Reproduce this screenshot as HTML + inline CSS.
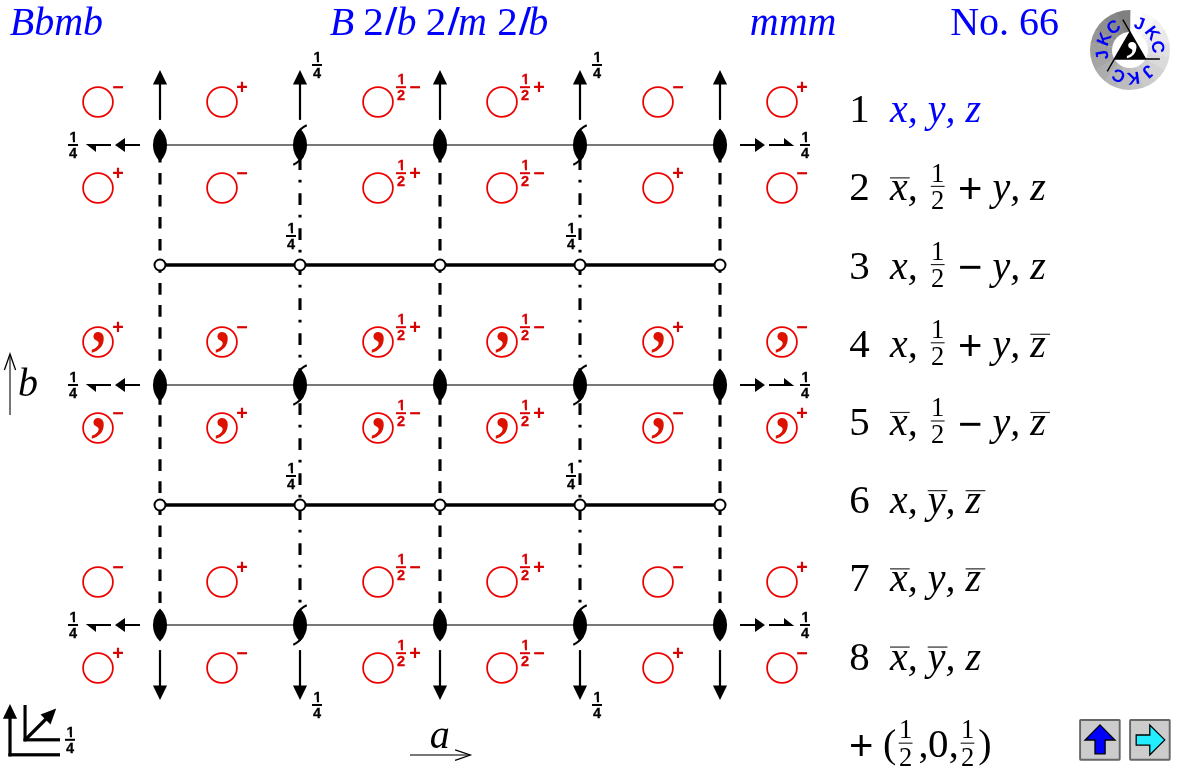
<!DOCTYPE html>
<html lang="en"><head><meta charset="utf-8"><title>Space group No. 66 - Bbmb</title>
<style>html,body{margin:0;padding:0;background:#fff;overflow:hidden}svg{display:block;will-change:transform;transform:translateZ(0)}text{white-space:pre;font-kerning:none}</style></head>
<body><svg width="1180" height="770" viewBox="0 0 1180 770">
<defs><clipPath id="nobase" clipPathUnits="objectBoundingBox"><polygon points="0,0 1,0 1,0.685 0.672,0.685 0.672,1 0.414,1 0.414,0.685 0,0.685"/></clipPath></defs>
<g id="grid">
<line x1="160" y1="145" x2="720" y2="145" stroke="#777777" stroke-width="2"/>
<line x1="160" y1="385" x2="720" y2="385" stroke="#777777" stroke-width="2"/>
<line x1="160" y1="625" x2="720" y2="625" stroke="#777777" stroke-width="2"/>
<line x1="160" y1="265" x2="720" y2="265" stroke="#000" stroke-width="3.4"/>
<line x1="160" y1="505" x2="720" y2="505" stroke="#000" stroke-width="3.4"/>
<line x1="160" y1="150.9" x2="160" y2="626" stroke="#000" stroke-width="3.1" stroke-dasharray="11.6 10.43"/>
<line x1="440" y1="150.9" x2="440" y2="626" stroke="#000" stroke-width="3.1" stroke-dasharray="11.6 10.43"/>
<line x1="720" y1="150.9" x2="720" y2="626" stroke="#000" stroke-width="3.1" stroke-dasharray="11.6 10.43"/>
<line x1="300" y1="158.2" x2="300" y2="626" stroke="#000" stroke-width="3.1" stroke-dasharray="11.8 9.8 2.8 10.6"/>
<line x1="580" y1="158.2" x2="580" y2="626" stroke="#000" stroke-width="3.1" stroke-dasharray="11.8 9.8 2.8 10.6"/>
</g>
<g id="axes2">
<path d="M160,128.6 A22.60,22.60 0 0 1 160,161.4 A22.60,22.60 0 0 1 160,128.6 Z" fill="#000"/>
<path d="M300,128.6 A22.60,22.60 0 0 1 300,161.4 A22.60,22.60 0 0 1 300,128.6 Z" fill="#000"/><path d="M296.84,134.20 A21.60,21.60 0 0 1 306.76,125.27" fill="none" stroke="#000" stroke-width="2"/><path d="M303.16,155.80 A21.60,21.60 0 0 1 293.24,164.73" fill="none" stroke="#000" stroke-width="2"/>
<path d="M440,128.6 A22.60,22.60 0 0 1 440,161.4 A22.60,22.60 0 0 1 440,128.6 Z" fill="#000"/>
<path d="M580,128.6 A22.60,22.60 0 0 1 580,161.4 A22.60,22.60 0 0 1 580,128.6 Z" fill="#000"/><path d="M576.84,134.20 A21.60,21.60 0 0 1 586.76,125.27" fill="none" stroke="#000" stroke-width="2"/><path d="M583.16,155.80 A21.60,21.60 0 0 1 573.24,164.73" fill="none" stroke="#000" stroke-width="2"/>
<path d="M720,128.6 A22.60,22.60 0 0 1 720,161.4 A22.60,22.60 0 0 1 720,128.6 Z" fill="#000"/>
<path d="M160,368.6 A22.60,22.60 0 0 1 160,401.4 A22.60,22.60 0 0 1 160,368.6 Z" fill="#000"/>
<path d="M300,368.6 A22.60,22.60 0 0 1 300,401.4 A22.60,22.60 0 0 1 300,368.6 Z" fill="#000"/><path d="M296.84,374.20 A21.60,21.60 0 0 1 306.76,365.27" fill="none" stroke="#000" stroke-width="2"/><path d="M303.16,395.80 A21.60,21.60 0 0 1 293.24,404.73" fill="none" stroke="#000" stroke-width="2"/>
<path d="M440,368.6 A22.60,22.60 0 0 1 440,401.4 A22.60,22.60 0 0 1 440,368.6 Z" fill="#000"/>
<path d="M580,368.6 A22.60,22.60 0 0 1 580,401.4 A22.60,22.60 0 0 1 580,368.6 Z" fill="#000"/><path d="M576.84,374.20 A21.60,21.60 0 0 1 586.76,365.27" fill="none" stroke="#000" stroke-width="2"/><path d="M583.16,395.80 A21.60,21.60 0 0 1 573.24,404.73" fill="none" stroke="#000" stroke-width="2"/>
<path d="M720,368.6 A22.60,22.60 0 0 1 720,401.4 A22.60,22.60 0 0 1 720,368.6 Z" fill="#000"/>
<path d="M160,608.6 A22.60,22.60 0 0 1 160,641.4 A22.60,22.60 0 0 1 160,608.6 Z" fill="#000"/>
<path d="M300,608.6 A22.60,22.60 0 0 1 300,641.4 A22.60,22.60 0 0 1 300,608.6 Z" fill="#000"/><path d="M296.84,614.20 A21.60,21.60 0 0 1 306.76,605.27" fill="none" stroke="#000" stroke-width="2"/><path d="M303.16,635.80 A21.60,21.60 0 0 1 293.24,644.73" fill="none" stroke="#000" stroke-width="2"/>
<path d="M440,608.6 A22.60,22.60 0 0 1 440,641.4 A22.60,22.60 0 0 1 440,608.6 Z" fill="#000"/>
<path d="M580,608.6 A22.60,22.60 0 0 1 580,641.4 A22.60,22.60 0 0 1 580,608.6 Z" fill="#000"/><path d="M576.84,614.20 A21.60,21.60 0 0 1 586.76,605.27" fill="none" stroke="#000" stroke-width="2"/><path d="M583.16,635.80 A21.60,21.60 0 0 1 573.24,644.73" fill="none" stroke="#000" stroke-width="2"/>
<path d="M720,608.6 A22.60,22.60 0 0 1 720,641.4 A22.60,22.60 0 0 1 720,608.6 Z" fill="#000"/>
</g>
<g id="inv" fill="#fff" stroke="#000" stroke-width="2">
<circle cx="160" cy="265" r="5.5"/>
<circle cx="300" cy="265" r="5.5"/>
<circle cx="440" cy="265" r="5.5"/>
<circle cx="580" cy="265" r="5.5"/>
<circle cx="720" cy="265" r="5.5"/>
<circle cx="160" cy="505" r="5.5"/>
<circle cx="300" cy="505" r="5.5"/>
<circle cx="440" cy="505" r="5.5"/>
<circle cx="580" cy="505" r="5.5"/>
<circle cx="720" cy="505" r="5.5"/>
</g>
<g id="arrows" fill="#000" stroke="none">
<polygon points="160,70 152.95,84.6 167.05,84.6"/><rect x="158.9" y="84" width="2.2" height="35.9"/>
<polygon points="160,700 152.95,685.4 167.05,685.4"/><rect x="158.9" y="650.1" width="2.2" height="35.9"/>
<polygon points="300,70 292.95,84.6 307.05,84.6"/><rect x="298.9" y="84" width="2.2" height="35.9"/>
<polygon points="300,700 292.95,685.4 307.05,685.4"/><rect x="298.9" y="650.1" width="2.2" height="35.9"/>
<polygon points="440,70 432.95,84.6 447.05,84.6"/><rect x="438.9" y="84" width="2.2" height="35.9"/>
<polygon points="440,700 432.95,685.4 447.05,685.4"/><rect x="438.9" y="650.1" width="2.2" height="35.9"/>
<polygon points="580,70 572.95,84.6 587.05,84.6"/><rect x="578.9" y="84" width="2.2" height="35.9"/>
<polygon points="580,700 572.95,685.4 587.05,685.4"/><rect x="578.9" y="650.1" width="2.2" height="35.9"/>
<polygon points="720,70 712.95,84.6 727.05,84.6"/><rect x="718.9" y="84" width="2.2" height="35.9"/>
<polygon points="720,700 712.95,685.4 727.05,685.4"/><rect x="718.9" y="650.1" width="2.2" height="35.9"/>
<polygon points="115,145 125,138 125,152"/><rect x="124.5" y="144" width="15.5" height="2"/>
<polygon points="85.8,144 96,144 96,152"/><rect x="88" y="144" width="23" height="2"/>
<polygon points="765,145 755,138 755,152"/><rect x="740" y="144" width="15.5" height="2"/>
<polygon points="794.2,146 784,146 784,138"/><rect x="769" y="144" width="23" height="2"/>
<polygon points="115,385 125,378 125,392"/><rect x="124.5" y="384" width="15.5" height="2"/>
<polygon points="85.8,384 96,384 96,392"/><rect x="88" y="384" width="23" height="2"/>
<polygon points="765,385 755,378 755,392"/><rect x="740" y="384" width="15.5" height="2"/>
<polygon points="794.2,386 784,386 784,378"/><rect x="769" y="384" width="23" height="2"/>
<polygon points="115,625 125,618 125,632"/><rect x="124.5" y="624" width="15.5" height="2"/>
<polygon points="85.8,624 96,624 96,632"/><rect x="88" y="624" width="23" height="2"/>
<polygon points="765,625 755,618 755,632"/><rect x="740" y="624" width="15.5" height="2"/>
<polygon points="794.2,626 784,626 784,618"/><rect x="769" y="624" width="23" height="2"/>
</g>
<g id="lab14">
<g fill="#000" stroke="#000" stroke-width="0.3" font-family="'Liberation Sans',sans-serif" font-weight="bold" font-size="14.5px" text-anchor="middle"><text x="73.60" y="141.80" clip-path="url(#nobase)">1</text><rect x="68.0" y="144" width="10" height="2" stroke="none"/><text x="73" y="158.00">4</text></g>
<g fill="#000" stroke="#000" stroke-width="0.3" font-family="'Liberation Sans',sans-serif" font-weight="bold" font-size="14.5px" text-anchor="middle"><text x="805.60" y="141.80" clip-path="url(#nobase)">1</text><rect x="800.0" y="144" width="10" height="2" stroke="none"/><text x="805" y="158.00">4</text></g>
<g fill="#000" stroke="#000" stroke-width="0.3" font-family="'Liberation Sans',sans-serif" font-weight="bold" font-size="14.5px" text-anchor="middle"><text x="73.60" y="381.80" clip-path="url(#nobase)">1</text><rect x="68.0" y="384" width="10" height="2" stroke="none"/><text x="73" y="398.00">4</text></g>
<g fill="#000" stroke="#000" stroke-width="0.3" font-family="'Liberation Sans',sans-serif" font-weight="bold" font-size="14.5px" text-anchor="middle"><text x="805.60" y="381.80" clip-path="url(#nobase)">1</text><rect x="800.0" y="384" width="10" height="2" stroke="none"/><text x="805" y="398.00">4</text></g>
<g fill="#000" stroke="#000" stroke-width="0.3" font-family="'Liberation Sans',sans-serif" font-weight="bold" font-size="14.5px" text-anchor="middle"><text x="73.60" y="621.80" clip-path="url(#nobase)">1</text><rect x="68.0" y="624" width="10" height="2" stroke="none"/><text x="73" y="638.00">4</text></g>
<g fill="#000" stroke="#000" stroke-width="0.3" font-family="'Liberation Sans',sans-serif" font-weight="bold" font-size="14.5px" text-anchor="middle"><text x="805.60" y="621.80" clip-path="url(#nobase)">1</text><rect x="800.0" y="624" width="10" height="2" stroke="none"/><text x="805" y="638.00">4</text></g>
<g fill="#000" stroke="#000" stroke-width="0.3" font-family="'Liberation Sans',sans-serif" font-weight="bold" font-size="14.5px" text-anchor="middle"><text x="317.60" y="61.80" clip-path="url(#nobase)">1</text><rect x="312.0" y="64" width="10" height="2" stroke="none"/><text x="317" y="78.00">4</text></g>
<g fill="#000" stroke="#000" stroke-width="0.3" font-family="'Liberation Sans',sans-serif" font-weight="bold" font-size="14.5px" text-anchor="middle"><text x="317.60" y="701.80" clip-path="url(#nobase)">1</text><rect x="312.0" y="704" width="10" height="2" stroke="none"/><text x="317" y="718.00">4</text></g>
<g fill="#000" stroke="#000" stroke-width="0.3" font-family="'Liberation Sans',sans-serif" font-weight="bold" font-size="14.5px" text-anchor="middle"><text x="291.60" y="232.80" clip-path="url(#nobase)">1</text><rect x="286.0" y="235" width="10" height="2" stroke="none"/><text x="291" y="249.00">4</text></g>
<g fill="#000" stroke="#000" stroke-width="0.3" font-family="'Liberation Sans',sans-serif" font-weight="bold" font-size="14.5px" text-anchor="middle"><text x="291.60" y="472.80" clip-path="url(#nobase)">1</text><rect x="286.0" y="475" width="10" height="2" stroke="none"/><text x="291" y="489.00">4</text></g>
<g fill="#000" stroke="#000" stroke-width="0.3" font-family="'Liberation Sans',sans-serif" font-weight="bold" font-size="14.5px" text-anchor="middle"><text x="597.60" y="61.80" clip-path="url(#nobase)">1</text><rect x="592.0" y="64" width="10" height="2" stroke="none"/><text x="597" y="78.00">4</text></g>
<g fill="#000" stroke="#000" stroke-width="0.3" font-family="'Liberation Sans',sans-serif" font-weight="bold" font-size="14.5px" text-anchor="middle"><text x="597.60" y="701.80" clip-path="url(#nobase)">1</text><rect x="592.0" y="704" width="10" height="2" stroke="none"/><text x="597" y="718.00">4</text></g>
<g fill="#000" stroke="#000" stroke-width="0.3" font-family="'Liberation Sans',sans-serif" font-weight="bold" font-size="14.5px" text-anchor="middle"><text x="571.60" y="232.80" clip-path="url(#nobase)">1</text><rect x="566.0" y="235" width="10" height="2" stroke="none"/><text x="571" y="249.00">4</text></g>
<g fill="#000" stroke="#000" stroke-width="0.3" font-family="'Liberation Sans',sans-serif" font-weight="bold" font-size="14.5px" text-anchor="middle"><text x="571.60" y="472.80" clip-path="url(#nobase)">1</text><rect x="566.0" y="475" width="10" height="2" stroke="none"/><text x="571" y="489.00">4</text></g>
</g>
<g id="gp">
<circle cx="98" cy="102" r="14.9" fill="none" stroke="#ee0000" stroke-width="1.75"/><text x="118.00" y="93.55" text-anchor="middle" font-family="'Liberation Sans',sans-serif" font-weight="bold" font-size="19.7px" fill="#d80000">−</text>
<circle cx="222" cy="102" r="14.9" fill="none" stroke="#ee0000" stroke-width="1.75"/><text x="242.00" y="93.55" text-anchor="middle" font-family="'Liberation Sans',sans-serif" font-weight="bold" font-size="19.7px" fill="#d80000">+</text>
<circle cx="378" cy="102" r="14.9" fill="none" stroke="#ee0000" stroke-width="1.75"/><g fill="#d80000" stroke="#d80000" stroke-width="0.3" font-family="'Liberation Sans',sans-serif" font-weight="bold" font-size="14.5px" text-anchor="middle"><text x="401.60" y="84.00" clip-path="url(#nobase)">1</text><rect x="396.0" y="86.2" width="10" height="2" stroke="none"/><text x="401" y="100.20">2</text></g><text x="415.00" y="93.55" text-anchor="middle" font-family="'Liberation Sans',sans-serif" font-weight="bold" font-size="19.7px" fill="#d80000">−</text>
<circle cx="502" cy="102" r="14.9" fill="none" stroke="#ee0000" stroke-width="1.75"/><g fill="#d80000" stroke="#d80000" stroke-width="0.3" font-family="'Liberation Sans',sans-serif" font-weight="bold" font-size="14.5px" text-anchor="middle"><text x="525.60" y="84.00" clip-path="url(#nobase)">1</text><rect x="520.0" y="86.2" width="10" height="2" stroke="none"/><text x="525" y="100.20">2</text></g><text x="539.00" y="93.55" text-anchor="middle" font-family="'Liberation Sans',sans-serif" font-weight="bold" font-size="19.7px" fill="#d80000">+</text>
<circle cx="658" cy="102" r="14.9" fill="none" stroke="#ee0000" stroke-width="1.75"/><text x="678.00" y="93.55" text-anchor="middle" font-family="'Liberation Sans',sans-serif" font-weight="bold" font-size="19.7px" fill="#d80000">−</text>
<circle cx="782" cy="102" r="14.9" fill="none" stroke="#ee0000" stroke-width="1.75"/><text x="802.00" y="93.55" text-anchor="middle" font-family="'Liberation Sans',sans-serif" font-weight="bold" font-size="19.7px" fill="#d80000">+</text>
<circle cx="98" cy="188" r="14.9" fill="none" stroke="#ee0000" stroke-width="1.75"/><text x="118.00" y="179.55" text-anchor="middle" font-family="'Liberation Sans',sans-serif" font-weight="bold" font-size="19.7px" fill="#d80000">+</text>
<circle cx="222" cy="188" r="14.9" fill="none" stroke="#ee0000" stroke-width="1.75"/><text x="242.00" y="179.55" text-anchor="middle" font-family="'Liberation Sans',sans-serif" font-weight="bold" font-size="19.7px" fill="#d80000">−</text>
<circle cx="378" cy="188" r="14.9" fill="none" stroke="#ee0000" stroke-width="1.75"/><g fill="#d80000" stroke="#d80000" stroke-width="0.3" font-family="'Liberation Sans',sans-serif" font-weight="bold" font-size="14.5px" text-anchor="middle"><text x="401.60" y="170.00" clip-path="url(#nobase)">1</text><rect x="396.0" y="172.2" width="10" height="2" stroke="none"/><text x="401" y="186.20">2</text></g><text x="415.00" y="179.55" text-anchor="middle" font-family="'Liberation Sans',sans-serif" font-weight="bold" font-size="19.7px" fill="#d80000">+</text>
<circle cx="502" cy="188" r="14.9" fill="none" stroke="#ee0000" stroke-width="1.75"/><g fill="#d80000" stroke="#d80000" stroke-width="0.3" font-family="'Liberation Sans',sans-serif" font-weight="bold" font-size="14.5px" text-anchor="middle"><text x="525.60" y="170.00" clip-path="url(#nobase)">1</text><rect x="520.0" y="172.2" width="10" height="2" stroke="none"/><text x="525" y="186.20">2</text></g><text x="539.00" y="179.55" text-anchor="middle" font-family="'Liberation Sans',sans-serif" font-weight="bold" font-size="19.7px" fill="#d80000">−</text>
<circle cx="658" cy="188" r="14.9" fill="none" stroke="#ee0000" stroke-width="1.75"/><text x="678.00" y="179.55" text-anchor="middle" font-family="'Liberation Sans',sans-serif" font-weight="bold" font-size="19.7px" fill="#d80000">+</text>
<circle cx="782" cy="188" r="14.9" fill="none" stroke="#ee0000" stroke-width="1.75"/><text x="802.00" y="179.55" text-anchor="middle" font-family="'Liberation Sans',sans-serif" font-weight="bold" font-size="19.7px" fill="#d80000">−</text>
<circle cx="98" cy="342" r="14.9" fill="none" stroke="#ee0000" stroke-width="1.75"/><text x="88.80" y="339.80" font-family="'Liberation Serif',serif" font-size="80px" fill="#dd1100">,</text><text x="118.00" y="333.55" text-anchor="middle" font-family="'Liberation Sans',sans-serif" font-weight="bold" font-size="19.7px" fill="#d80000">+</text>
<circle cx="222" cy="342" r="14.9" fill="none" stroke="#ee0000" stroke-width="1.75"/><text x="212.80" y="339.80" font-family="'Liberation Serif',serif" font-size="80px" fill="#dd1100">,</text><text x="242.00" y="333.55" text-anchor="middle" font-family="'Liberation Sans',sans-serif" font-weight="bold" font-size="19.7px" fill="#d80000">−</text>
<circle cx="378" cy="342" r="14.9" fill="none" stroke="#ee0000" stroke-width="1.75"/><text x="368.80" y="339.80" font-family="'Liberation Serif',serif" font-size="80px" fill="#dd1100">,</text><g fill="#d80000" stroke="#d80000" stroke-width="0.3" font-family="'Liberation Sans',sans-serif" font-weight="bold" font-size="14.5px" text-anchor="middle"><text x="401.60" y="324.00" clip-path="url(#nobase)">1</text><rect x="396.0" y="326.2" width="10" height="2" stroke="none"/><text x="401" y="340.20">2</text></g><text x="415.00" y="333.55" text-anchor="middle" font-family="'Liberation Sans',sans-serif" font-weight="bold" font-size="19.7px" fill="#d80000">+</text>
<circle cx="502" cy="342" r="14.9" fill="none" stroke="#ee0000" stroke-width="1.75"/><text x="492.80" y="339.80" font-family="'Liberation Serif',serif" font-size="80px" fill="#dd1100">,</text><g fill="#d80000" stroke="#d80000" stroke-width="0.3" font-family="'Liberation Sans',sans-serif" font-weight="bold" font-size="14.5px" text-anchor="middle"><text x="525.60" y="324.00" clip-path="url(#nobase)">1</text><rect x="520.0" y="326.2" width="10" height="2" stroke="none"/><text x="525" y="340.20">2</text></g><text x="539.00" y="333.55" text-anchor="middle" font-family="'Liberation Sans',sans-serif" font-weight="bold" font-size="19.7px" fill="#d80000">−</text>
<circle cx="658" cy="342" r="14.9" fill="none" stroke="#ee0000" stroke-width="1.75"/><text x="648.80" y="339.80" font-family="'Liberation Serif',serif" font-size="80px" fill="#dd1100">,</text><text x="678.00" y="333.55" text-anchor="middle" font-family="'Liberation Sans',sans-serif" font-weight="bold" font-size="19.7px" fill="#d80000">+</text>
<circle cx="782" cy="342" r="14.9" fill="none" stroke="#ee0000" stroke-width="1.75"/><text x="772.80" y="339.80" font-family="'Liberation Serif',serif" font-size="80px" fill="#dd1100">,</text><text x="802.00" y="333.55" text-anchor="middle" font-family="'Liberation Sans',sans-serif" font-weight="bold" font-size="19.7px" fill="#d80000">−</text>
<circle cx="98" cy="428" r="14.9" fill="none" stroke="#ee0000" stroke-width="1.75"/><text x="88.80" y="425.80" font-family="'Liberation Serif',serif" font-size="80px" fill="#dd1100">,</text><text x="118.00" y="419.55" text-anchor="middle" font-family="'Liberation Sans',sans-serif" font-weight="bold" font-size="19.7px" fill="#d80000">−</text>
<circle cx="222" cy="428" r="14.9" fill="none" stroke="#ee0000" stroke-width="1.75"/><text x="212.80" y="425.80" font-family="'Liberation Serif',serif" font-size="80px" fill="#dd1100">,</text><text x="242.00" y="419.55" text-anchor="middle" font-family="'Liberation Sans',sans-serif" font-weight="bold" font-size="19.7px" fill="#d80000">+</text>
<circle cx="378" cy="428" r="14.9" fill="none" stroke="#ee0000" stroke-width="1.75"/><text x="368.80" y="425.80" font-family="'Liberation Serif',serif" font-size="80px" fill="#dd1100">,</text><g fill="#d80000" stroke="#d80000" stroke-width="0.3" font-family="'Liberation Sans',sans-serif" font-weight="bold" font-size="14.5px" text-anchor="middle"><text x="401.60" y="410.00" clip-path="url(#nobase)">1</text><rect x="396.0" y="412.2" width="10" height="2" stroke="none"/><text x="401" y="426.20">2</text></g><text x="415.00" y="419.55" text-anchor="middle" font-family="'Liberation Sans',sans-serif" font-weight="bold" font-size="19.7px" fill="#d80000">−</text>
<circle cx="502" cy="428" r="14.9" fill="none" stroke="#ee0000" stroke-width="1.75"/><text x="492.80" y="425.80" font-family="'Liberation Serif',serif" font-size="80px" fill="#dd1100">,</text><g fill="#d80000" stroke="#d80000" stroke-width="0.3" font-family="'Liberation Sans',sans-serif" font-weight="bold" font-size="14.5px" text-anchor="middle"><text x="525.60" y="410.00" clip-path="url(#nobase)">1</text><rect x="520.0" y="412.2" width="10" height="2" stroke="none"/><text x="525" y="426.20">2</text></g><text x="539.00" y="419.55" text-anchor="middle" font-family="'Liberation Sans',sans-serif" font-weight="bold" font-size="19.7px" fill="#d80000">+</text>
<circle cx="658" cy="428" r="14.9" fill="none" stroke="#ee0000" stroke-width="1.75"/><text x="648.80" y="425.80" font-family="'Liberation Serif',serif" font-size="80px" fill="#dd1100">,</text><text x="678.00" y="419.55" text-anchor="middle" font-family="'Liberation Sans',sans-serif" font-weight="bold" font-size="19.7px" fill="#d80000">−</text>
<circle cx="782" cy="428" r="14.9" fill="none" stroke="#ee0000" stroke-width="1.75"/><text x="772.80" y="425.80" font-family="'Liberation Serif',serif" font-size="80px" fill="#dd1100">,</text><text x="802.00" y="419.55" text-anchor="middle" font-family="'Liberation Sans',sans-serif" font-weight="bold" font-size="19.7px" fill="#d80000">+</text>
<circle cx="98" cy="582" r="14.9" fill="none" stroke="#ee0000" stroke-width="1.75"/><text x="118.00" y="573.55" text-anchor="middle" font-family="'Liberation Sans',sans-serif" font-weight="bold" font-size="19.7px" fill="#d80000">−</text>
<circle cx="222" cy="582" r="14.9" fill="none" stroke="#ee0000" stroke-width="1.75"/><text x="242.00" y="573.55" text-anchor="middle" font-family="'Liberation Sans',sans-serif" font-weight="bold" font-size="19.7px" fill="#d80000">+</text>
<circle cx="378" cy="582" r="14.9" fill="none" stroke="#ee0000" stroke-width="1.75"/><g fill="#d80000" stroke="#d80000" stroke-width="0.3" font-family="'Liberation Sans',sans-serif" font-weight="bold" font-size="14.5px" text-anchor="middle"><text x="401.60" y="564.00" clip-path="url(#nobase)">1</text><rect x="396.0" y="566.2" width="10" height="2" stroke="none"/><text x="401" y="580.20">2</text></g><text x="415.00" y="573.55" text-anchor="middle" font-family="'Liberation Sans',sans-serif" font-weight="bold" font-size="19.7px" fill="#d80000">−</text>
<circle cx="502" cy="582" r="14.9" fill="none" stroke="#ee0000" stroke-width="1.75"/><g fill="#d80000" stroke="#d80000" stroke-width="0.3" font-family="'Liberation Sans',sans-serif" font-weight="bold" font-size="14.5px" text-anchor="middle"><text x="525.60" y="564.00" clip-path="url(#nobase)">1</text><rect x="520.0" y="566.2" width="10" height="2" stroke="none"/><text x="525" y="580.20">2</text></g><text x="539.00" y="573.55" text-anchor="middle" font-family="'Liberation Sans',sans-serif" font-weight="bold" font-size="19.7px" fill="#d80000">+</text>
<circle cx="658" cy="582" r="14.9" fill="none" stroke="#ee0000" stroke-width="1.75"/><text x="678.00" y="573.55" text-anchor="middle" font-family="'Liberation Sans',sans-serif" font-weight="bold" font-size="19.7px" fill="#d80000">−</text>
<circle cx="782" cy="582" r="14.9" fill="none" stroke="#ee0000" stroke-width="1.75"/><text x="802.00" y="573.55" text-anchor="middle" font-family="'Liberation Sans',sans-serif" font-weight="bold" font-size="19.7px" fill="#d80000">+</text>
<circle cx="98" cy="668" r="14.9" fill="none" stroke="#ee0000" stroke-width="1.75"/><text x="118.00" y="659.55" text-anchor="middle" font-family="'Liberation Sans',sans-serif" font-weight="bold" font-size="19.7px" fill="#d80000">+</text>
<circle cx="222" cy="668" r="14.9" fill="none" stroke="#ee0000" stroke-width="1.75"/><text x="242.00" y="659.55" text-anchor="middle" font-family="'Liberation Sans',sans-serif" font-weight="bold" font-size="19.7px" fill="#d80000">−</text>
<circle cx="378" cy="668" r="14.9" fill="none" stroke="#ee0000" stroke-width="1.75"/><g fill="#d80000" stroke="#d80000" stroke-width="0.3" font-family="'Liberation Sans',sans-serif" font-weight="bold" font-size="14.5px" text-anchor="middle"><text x="401.60" y="650.00" clip-path="url(#nobase)">1</text><rect x="396.0" y="652.2" width="10" height="2" stroke="none"/><text x="401" y="666.20">2</text></g><text x="415.00" y="659.55" text-anchor="middle" font-family="'Liberation Sans',sans-serif" font-weight="bold" font-size="19.7px" fill="#d80000">+</text>
<circle cx="502" cy="668" r="14.9" fill="none" stroke="#ee0000" stroke-width="1.75"/><g fill="#d80000" stroke="#d80000" stroke-width="0.3" font-family="'Liberation Sans',sans-serif" font-weight="bold" font-size="14.5px" text-anchor="middle"><text x="525.60" y="650.00" clip-path="url(#nobase)">1</text><rect x="520.0" y="652.2" width="10" height="2" stroke="none"/><text x="525" y="666.20">2</text></g><text x="539.00" y="659.55" text-anchor="middle" font-family="'Liberation Sans',sans-serif" font-weight="bold" font-size="19.7px" fill="#d80000">−</text>
<circle cx="658" cy="668" r="14.9" fill="none" stroke="#ee0000" stroke-width="1.75"/><text x="678.00" y="659.55" text-anchor="middle" font-family="'Liberation Sans',sans-serif" font-weight="bold" font-size="19.7px" fill="#d80000">+</text>
<circle cx="782" cy="668" r="14.9" fill="none" stroke="#ee0000" stroke-width="1.75"/><text x="802.00" y="659.55" text-anchor="middle" font-family="'Liberation Sans',sans-serif" font-weight="bold" font-size="19.7px" fill="#d80000">−</text>
</g>
<g id="titles" fill="#0000ff" font-size="40px" font-family="'Liberation Serif',serif">
<text x="9.8" y="34.7" font-style="italic">Bbmb</text>
<text y="34.7" font-style="italic"><tspan x="329.8">B</tspan> <tspan x="363.35" font-style="normal" font-size="41px">2</tspan><tspan x="384.92" font-family="'Liberation Sans',sans-serif" font-style="normal" font-size="38.2px" textLength="12.45" lengthAdjust="spacingAndGlyphs">/</tspan><tspan x="396.4">b</tspan> <tspan x="425.85" font-style="normal" font-size="41px">2</tspan><tspan x="447.52" font-family="'Liberation Sans',sans-serif" font-style="normal" font-size="38.2px" textLength="12.45" lengthAdjust="spacingAndGlyphs">/</tspan><tspan x="457.9">m</tspan> <tspan x="497.15" font-style="normal" font-size="41px">2</tspan><tspan x="518.77" font-family="'Liberation Sans',sans-serif" font-style="normal" font-size="38.2px" textLength="12.45" lengthAdjust="spacingAndGlyphs">/</tspan><tspan x="528.2">b</tspan></text>
<text x="749.8" y="34.7" font-style="italic">mmm</text>
<text x="950.2" y="34.7">No. 66</text>
</g>
<g id="list" font-size="40px" font-family="'Liberation Serif',serif" fill="#000">
<text x="849.3" y="122.20" font-size="41px">1</text>
<text x="890" y="122.20" font-style="italic" fill="#0000ff" xml:space="preserve">x, y, z</text>
<text x="849.3" y="200.40" font-size="41px">2</text>
<text x="890" y="200.40" font-style="italic" fill="#000" xml:space="preserve">x,</text>
<rect x="890" y="177.30" width="19.7" height="1.15" fill="#222"/>
<g font-size="26.5px" text-anchor="middle"><text x="937.7" y="181.60">1</text><rect x="930.8000000000001" y="185.80" width="13.8" height="1.15" fill="#222"/><text x="937.7" y="208.80">2</text></g>
<text x="970.15" y="203.10" text-anchor="middle" font-family="'Liberation Sans',sans-serif" font-size="41.8px">+</text>
<text x="992.5" y="200.40" font-style="italic" fill="#000" xml:space="preserve">y, z</text>
<text x="849.3" y="278.60" font-size="41px">3</text>
<text x="890" y="278.60" font-style="italic" fill="#000" xml:space="preserve">x,</text>
<g font-size="26.5px" text-anchor="middle"><text x="937.7" y="259.80">1</text><rect x="930.8000000000001" y="264.00" width="13.8" height="1.15" fill="#222"/><text x="937.7" y="287.00">2</text></g>
<text x="970.15" y="281.30" text-anchor="middle" font-family="'Liberation Sans',sans-serif" font-size="41.8px">−</text>
<text x="992.5" y="278.60" font-style="italic" fill="#000" xml:space="preserve">y, z</text>
<text x="849.3" y="356.80" font-size="41px">4</text>
<text x="890" y="356.80" font-style="italic" fill="#000" xml:space="preserve">x,</text>
<g font-size="26.5px" text-anchor="middle"><text x="937.7" y="338.00">1</text><rect x="930.8000000000001" y="342.20" width="13.8" height="1.15" fill="#222"/><text x="937.7" y="365.20">2</text></g>
<text x="970.15" y="359.50" text-anchor="middle" font-family="'Liberation Sans',sans-serif" font-size="41.8px">+</text>
<text x="992.5" y="356.80" font-style="italic" fill="#000" xml:space="preserve">y, z</text>
<rect x="1030.3" y="333.70" width="19.7" height="1.15" fill="#222"/>
<text x="849.3" y="435.00" font-size="41px">5</text>
<text x="890" y="435.00" font-style="italic" fill="#000" xml:space="preserve">x,</text>
<rect x="890" y="411.90" width="19.7" height="1.15" fill="#222"/>
<g font-size="26.5px" text-anchor="middle"><text x="937.7" y="416.20">1</text><rect x="930.8000000000001" y="420.40" width="13.8" height="1.15" fill="#222"/><text x="937.7" y="443.40">2</text></g>
<text x="970.15" y="437.70" text-anchor="middle" font-family="'Liberation Sans',sans-serif" font-size="41.8px">−</text>
<text x="992.5" y="435.00" font-style="italic" fill="#000" xml:space="preserve">y, z</text>
<rect x="1030.3" y="411.90" width="19.7" height="1.15" fill="#222"/>
<text x="849.3" y="513.20" font-size="41px">6</text>
<text x="890" y="513.20" font-style="italic" fill="#000" xml:space="preserve">x, y, z</text>
<rect x="927.6999999999999" y="490.10" width="19.7" height="1.15" fill="#222"/>
<rect x="965.6" y="490.10" width="19.7" height="1.15" fill="#222"/>
<text x="849.3" y="591.40" font-size="41px">7</text>
<text x="890" y="591.40" font-style="italic" fill="#000" xml:space="preserve">x, y, z</text>
<rect x="890" y="568.30" width="19.7" height="1.15" fill="#222"/>
<rect x="965.6" y="568.30" width="19.7" height="1.15" fill="#222"/>
<text x="849.3" y="669.60" font-size="41px">8</text>
<text x="890" y="669.60" font-style="italic" fill="#000" xml:space="preserve">x, y, z</text>
<rect x="890" y="646.50" width="19.7" height="1.15" fill="#222"/>
<rect x="927.6999999999999" y="646.50" width="19.7" height="1.15" fill="#222"/>
<text x="861.1" y="759.90" text-anchor="middle" font-family="'Liberation Sans',sans-serif" font-size="41.8px">+</text>
<text x="883.0" y="757.20" fill="#000" xml:space="preserve">(</text>
<g font-size="26.5px" text-anchor="middle"><text x="905.6" y="738.40">1</text><rect x="898.7" y="742.60" width="13.8" height="1.15" fill="#222"/><text x="905.6" y="765.60">2</text></g>
<text x="918.5" y="757.20" fill="#000" xml:space="preserve">,</text>
<text x="927.9" y="757.20" font-size="41px">0</text>
<text x="948.7" y="757.20" fill="#000" xml:space="preserve">,</text>
<g font-size="26.5px" text-anchor="middle"><text x="967.5" y="738.40">1</text><rect x="960.6" y="742.60" width="13.8" height="1.15" fill="#222"/><text x="967.5" y="765.60">2</text></g>
<text x="978.2" y="757.20" fill="#000" xml:space="preserve">)</text>
</g>
<g id="axlab" font-size="40px" font-family="'Liberation Serif',serif" font-style="italic" fill="#000">
<text x="18" y="395.6">b</text>
<text x="429.8" y="748">a</text>
</g>
<g id="axarrows" fill="none">
<line x1="10" y1="355" x2="10" y2="415" stroke="#777" stroke-width="2"/>
<polyline points="4.4,370 10,354 15.6,370" stroke="#000" stroke-width="1.3"/>
<line x1="410" y1="755" x2="470" y2="755" stroke="#777" stroke-width="2"/>
<polyline points="455.1,749.8 470.3,755 455.1,760.3" stroke="#000" stroke-width="1.3"/>
</g>
<g id="icon" fill="#000" stroke="none">
<polygon points="10,704 2.9,718.8 17.1,718.8"/>
<rect x="8.4" y="718" width="3.2" height="38.4"/>
<rect x="8.4" y="753.2" width="51.6" height="3.2"/>
<rect x="23.5" y="705" width="3.1" height="36.4"/>
<rect x="23.5" y="738.2" width="36.5" height="3.2"/>
<line x1="25" y1="740" x2="47" y2="718" stroke="#000" stroke-width="3.2"/>
<polygon points="56.2,708.5 40.6,714.5 50.5,724.4"/>
</g>
<g fill="#000" stroke="#000" stroke-width="0.3" font-family="'Liberation Sans',sans-serif" font-weight="bold" font-size="14.5px" text-anchor="middle"><text x="70.60" y="736.60" clip-path="url(#nobase)">1</text><rect x="65.0" y="738.8" width="10" height="2" stroke="none"/><text x="70" y="752.80">4</text></g>
<g id="nav">
<rect x="1080.1" y="720" width="39.6" height="39.7" fill="#cccccc" stroke="#666" stroke-width="1.9" rx="0.6"/>
<rect x="1130.1" y="720" width="39.6" height="39.7" fill="#cccccc" stroke="#666" stroke-width="1.9" rx="0.6"/>
<polygon points="1100,724.9 1115,740 1105.1,740 1105.1,753.8 1095,753.8 1095,740 1085,740" fill="#0000ff" stroke="#000" stroke-width="1.3" stroke-linejoin="miter"/>
<polygon points="1164.8,739.9 1149.8,755 1149.8,745.1 1136.2,745.1 1136.2,735 1149.8,735 1149.8,725" fill="#22eeff" stroke="#000" stroke-width="1.3" stroke-linejoin="miter"/>
</g>
<g id="logo">
<path d="M1130,50 L1130.00,10.00 A40,40 0 0 1 1144.06,12.55 Z" fill="rgb(255,255,255)"/>
<path d="M1130,50 L1143.68,12.41 A40,40 0 0 1 1156.02,19.62 Z" fill="rgb(248,248,248)"/>
<path d="M1130,50 L1155.71,19.36 A40,40 0 0 1 1164.84,30.35 Z" fill="rgb(240,240,240)"/>
<path d="M1130,50 L1164.64,30.00 A40,40 0 0 1 1169.46,43.45 Z" fill="rgb(233,233,233)"/>
<path d="M1130,50 L1169.39,43.05 A40,40 0 0 1 1169.32,57.34 Z" fill="rgb(225,225,225)"/>
<path d="M1130,50 L1169.39,56.95 A40,40 0 0 1 1164.44,70.35 Z" fill="rgb(218,218,218)"/>
<path d="M1130,50 L1164.64,70.00 A40,40 0 0 1 1155.40,80.90 Z" fill="rgb(210,210,210)"/>
<path d="M1130,50 L1155.71,80.64 A40,40 0 0 1 1143.30,87.72 Z" fill="rgb(203,203,203)"/>
<path d="M1130,50 L1143.68,87.59 A40,40 0 0 1 1129.60,90.00 Z" fill="rgb(195,195,195)"/>
<path d="M1130,50 L1130.00,90.00 A40,40 0 0 1 1115.94,87.45 Z" fill="rgb(188,188,188)"/>
<path d="M1130,50 L1116.32,87.59 A40,40 0 0 1 1103.98,80.38 Z" fill="rgb(180,180,180)"/>
<path d="M1130,50 L1104.29,80.64 A40,40 0 0 1 1095.16,69.65 Z" fill="rgb(173,173,173)"/>
<path d="M1130,50 L1095.36,70.00 A40,40 0 0 1 1090.54,56.55 Z" fill="rgb(165,165,165)"/>
<path d="M1130,50 L1090.61,56.95 A40,40 0 0 1 1090.68,42.66 Z" fill="rgb(158,158,158)"/>
<path d="M1130,50 L1090.61,43.05 A40,40 0 0 1 1095.56,29.65 Z" fill="rgb(150,150,150)"/>
<path d="M1130,50 L1095.36,30.00 A40,40 0 0 1 1104.60,19.10 Z" fill="rgb(143,143,143)"/>
<path d="M1130,50 L1104.29,19.36 A40,40 0 0 1 1116.70,12.28 Z" fill="rgb(135,135,135)"/>
<path d="M1130,50 L1116.32,12.41 A40,40 0 0 1 1130.40,10.00 Z" fill="rgb(128,128,128)"/>
<circle cx="1130" cy="50" r="18" fill="#fff"/>
<polygon points="1130.00,32.00 1145.59,59.00 1114.41,59.00" fill="#000"/>
<line x1="1145.59" y1="59.00" x2="1122.85" y2="19.62" stroke="#000" stroke-width="1.4"/>
<line x1="1114.41" y1="59.00" x2="1159.89" y2="59.00" stroke="#000" stroke-width="1.4"/>
<line x1="1130.00" y1="32.00" x2="1107.26" y2="71.38" stroke="#000" stroke-width="1.4"/>
<text x="1124.4" y="48.6" font-family="'Liberation Serif',serif" font-size="64px" fill="#fff">,</text>
<g font-family="'Liberation Sans',sans-serif" font-weight="bold" font-size="17.5px" fill="#0000ff" text-anchor="middle">
<text x="1130" y="27.6" transform="rotate(20 1130 50)">J</text>
<text x="1130" y="27.6" transform="rotate(53 1130 50)">K</text>
<text x="1130" y="27.6" transform="rotate(84 1130 50)">C</text>
<text x="1130" y="27.6" transform="rotate(140 1130 50)">J</text>
<text x="1130" y="27.6" transform="rotate(173 1130 50)">K</text>
<text x="1130" y="27.6" transform="rotate(204 1130 50)">C</text>
<text x="1130" y="27.6" transform="rotate(260 1130 50)">J</text>
<text x="1130" y="27.6" transform="rotate(293 1130 50)">K</text>
<text x="1130" y="27.6" transform="rotate(324 1130 50)">C</text>
</g>
</g>
</svg></body></html>
